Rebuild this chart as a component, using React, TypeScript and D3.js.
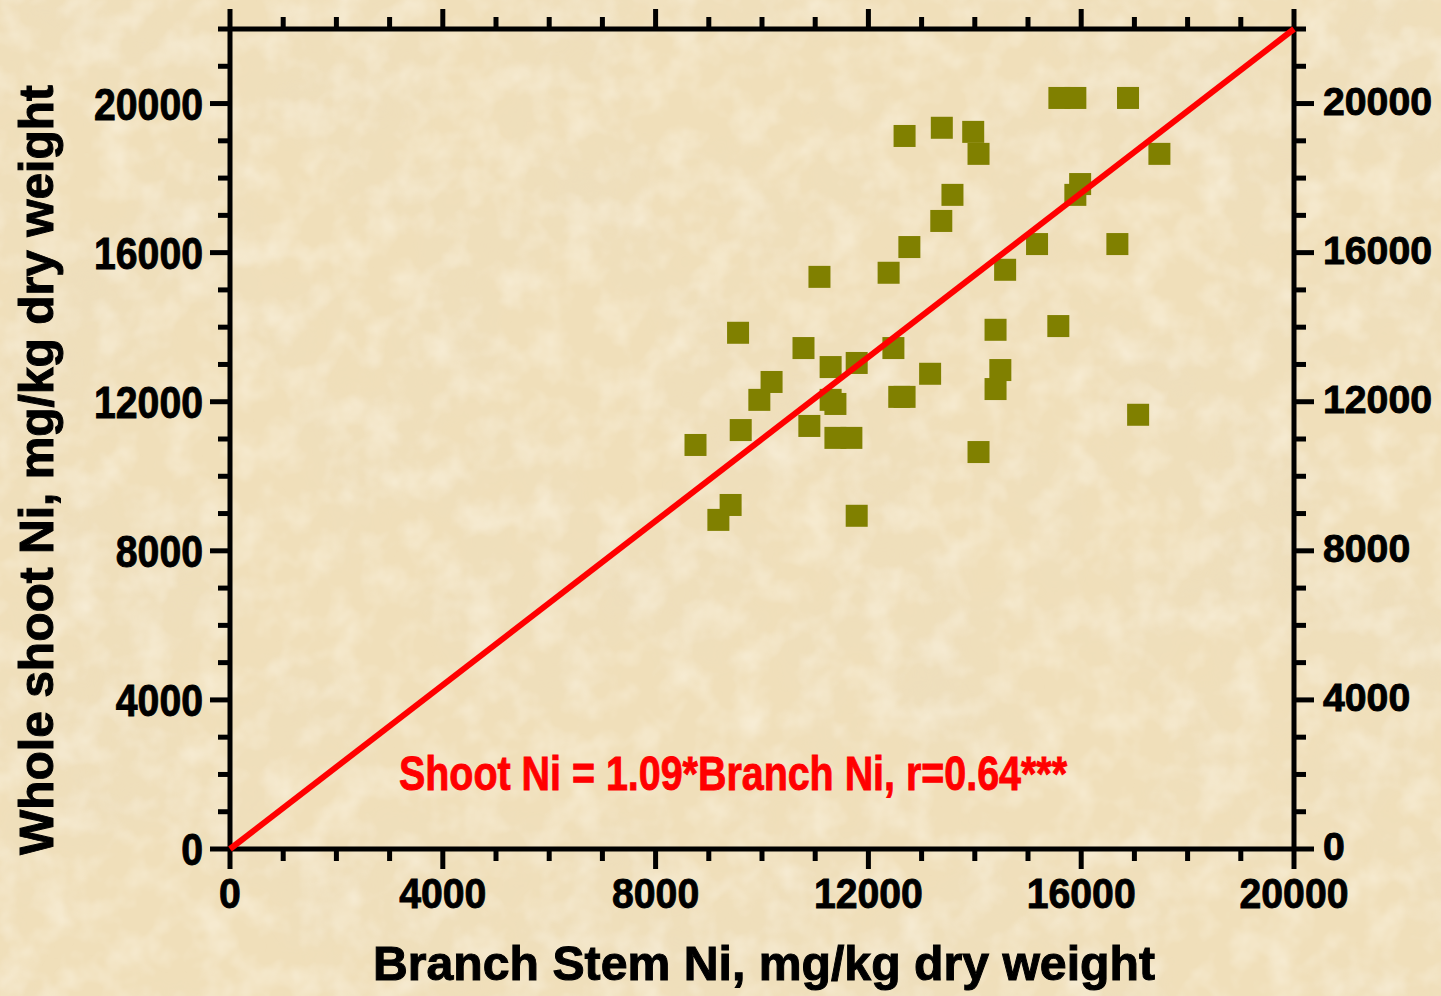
import React from "react";
import * as d3 from "d3";

// Branch stem Ni (x) vs whole shoot Ni (y), mg/kg dry weight
const branchNi = [
  15590, 15890, 16880, 12680, 13380, 13970, 14070, 17470, 15980, 15890, 13580,
  13370, 12770, 15170, 16680, 11080, 12380, 14570, 9550, 10780, 12470, 14390,
  15570, 11290, 11780, 10180, 9950, 13160, 14480, 14390, 12580, 12680, 11290,
  11380, 9600, 8750, 10890, 11380, 11680, 17070, 14070, 9410, 9180, 11780,
];
const shootNi = [
  20150, 20150, 20150, 19130, 19350, 19240, 18650, 18650, 17840, 17550, 17550,
  16850, 16150, 16230, 16230, 15350, 15460, 15540, 13850, 13440, 13440, 13930,
  14030, 12930, 13040, 12530, 12050, 12750, 12850, 12340, 12130, 12130, 12050,
  11940, 11240, 10840, 11350, 11030, 11030, 11650, 10650, 9230, 8830, 8940,
];
// fitted line drawn through the origin
const fitX = [0, 20000];
const fitY = [0, 22000];

const xTickLabels = ["0", "4000", "8000", "12000", "16000", "20000"];
const yTickLabels = ["0", "4000", "8000", "12000", "16000", "20000"];

const xTitle = "Branch Stem Ni, mg/kg dry weight";
const yTitle = "Whole shoot Ni, mg/kg dry weight";
const equation = "Shoot Ni = 1.09*Branch Ni, r=0.64***";

const W = 1441;
const H = 996;
const L = 230;
const R = 1294;
const T = 29;
const B = 849;

export default function App() {
  const x = d3.scaleLinear().domain([0, 20000]).range([L, R]);
  const y = d3.scaleLinear().domain([0, 22000]).range([B, T]);
  const xTicks = d3.range(0, 20001, 1000);
  const yTicks = d3.range(0, 22001, 1000);
  const line = d3
    .line<number>()
    .x((d, i) => x(fitX[i]))
    .y((d, i) => y(fitY[i]));
  const font = "'Liberation Sans', Arial, Helvetica, sans-serif";
  const sw = 5;
  const major = 20;
  const minor = 12;
  const digitW = 21.8;
  const sq = 22;

  return (
    <svg
      width={W}
      height={H}
      viewBox={`0 0 ${W} ${H}`}
      style={{ position: "absolute", left: 0, top: 0, display: "block" }}
    >
      <defs>
        <filter id="paper" x="0" y="0" width="100%" height="100%">
          <feTurbulence type="fractalNoise" baseFrequency="0.006" numOctaves="5" seed="7" result="n1" />
          <feColorMatrix
            in="n1"
            type="matrix"
            values="0 0 0 0 0.84  0 0 0 0 0.73  0 0 0 0 0.52  1.1 0 0 0 -0.42"
            result="dark"
          />
          <feTurbulence type="fractalNoise" baseFrequency="0.03" numOctaves="3" seed="19" result="n2" />
          <feColorMatrix
            in="n2"
            type="matrix"
            values="0 0 0 0 1  0 0 0 0 0.97  0 0 0 0 0.88  0 0.9 0 0 -0.38"
            result="light"
          />
          <feMerge>
            <feMergeNode in="dark" />
            <feMergeNode in="light" />
          </feMerge>
        </filter>
      </defs>
      <rect x={0} y={0} width={W} height={H} fill="#F0DFBA" />
      <rect x={0} y={0} width={W} height={H} fill="#F0DFBA" filter="url(#paper)" />

      {/* frame */}
      <g stroke="#000" strokeWidth={sw} fill="none">
        <line x1={L} x2={R} y1={B} y2={B} />
        <line x1={L} x2={R} y1={T} y2={T} />
        <line x1={L} x2={L} y1={T} y2={B} />
        <line x1={R} x2={R} y1={T} y2={B} />
        {xTicks.map((v) => {
          const len = v % 4000 === 0 ? major : minor;
          return (
            <g key={"x" + v}>
              <line x1={x(v)} x2={x(v)} y1={B} y2={B + len} />
              <line x1={x(v)} x2={x(v)} y1={T} y2={T - len} />
            </g>
          );
        })}
        {yTicks.map((v) => {
          const len = v % 4000 === 0 ? major : minor;
          return (
            <g key={"y" + v}>
              <line x1={L} x2={L - len} y1={y(v)} y2={y(v)} />
              <line x1={R} x2={R + len} y1={y(v)} y2={y(v)} />
            </g>
          );
        })}
      </g>

      {/* tick labels */}
      <g fontFamily={font} fontWeight="bold" fill="#000" stroke="#000" strokeWidth={0.9}>
        {xTickLabels.map((s) => (
          <text
            key={"xl" + s}
            x={x(+s)}
            y={908}
            fontSize={43}
            textAnchor="middle"
            textLength={s.length * digitW}
            lengthAdjust="spacingAndGlyphs"
          >
            {s}
          </text>
        ))}
        {yTickLabels.map((s) => (
          <text
            key={"yl" + s}
            x={203}
            y={y(+s) + 16}
            fontSize={44}
            textAnchor="end"
            textLength={s.length * digitW}
            lengthAdjust="spacingAndGlyphs"
          >
            {s}
          </text>
        ))}
        {yTickLabels.map((s) => (
          <text
            key={"yr" + s}
            x={1323}
            y={y(+s) + 11}
            fontSize={39}
            textAnchor="start"
            textLength={s.length * digitW}
            lengthAdjust="spacingAndGlyphs"
          >
            {s}
          </text>
        ))}
      </g>

      {/* points */}
      <g fill="#808000">
        {branchNi.map((v, i) => (
          <rect
            key={"p" + i}
            x={x(v) - sq / 2}
            y={y(shootNi[i]) - sq / 2}
            width={sq}
            height={sq}
          />
        ))}
      </g>

      {/* fitted line */}
      <path d={line(fitX) || ""} stroke="#FF0000" strokeWidth={6} fill="none" />

      {/* equation */}
      <text
        x={399}
        y={790}
        fontFamily={font}
        fontWeight="bold"
        fontSize={48}
        fill="#FF0000"
        stroke="#FF0000"
        strokeWidth={0.9}
        textLength={668}
        lengthAdjust="spacingAndGlyphs"
      >
        {equation}
      </text>

      {/* axis titles */}
      <text
        x={764}
        y={980}
        fontFamily={font}
        fontWeight="bold"
        fontSize={49}
        textAnchor="middle"
        stroke="#000"
        strokeWidth={1}
        textLength={782}
        lengthAdjust="spacingAndGlyphs"
      >
        {xTitle}
      </text>
      <text
        transform="translate(53,470) rotate(-90)"
        fontFamily={font}
        fontWeight="bold"
        fontSize={49}
        textAnchor="middle"
        stroke="#000"
        strokeWidth={1}
        textLength={770}
        lengthAdjust="spacingAndGlyphs"
      >
        {yTitle}
      </text>
    </svg>
  );
}
